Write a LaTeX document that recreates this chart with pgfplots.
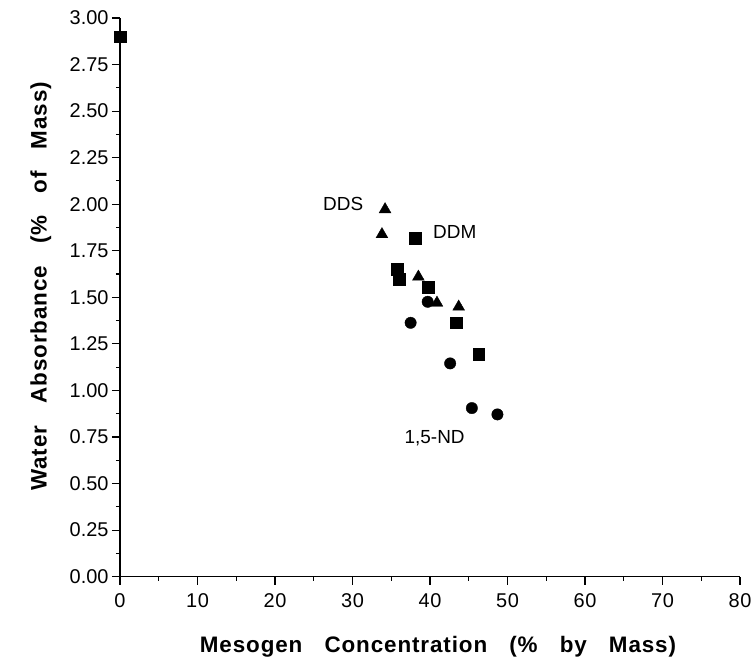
\documentclass[border=0pt]{standalone}
\usepackage{fontspec}
\setmainfont{Liberation Sans}
\newfontfamily\spacedfont[LetterSpace=4]{Liberation Sans}
\newfontfamily\labelfont[LetterSpace=4]{Liberation Sans}
\usepackage{pgfplots}
\pgfplotsset{compat=1.18}

\begin{document}
\begin{tikzpicture}
\begin{axis}[
  scale only axis,
  width=620bp, height=558.6bp,
  xmin=0, xmax=80, ymin=0, ymax=3,
  axis x line=bottom, axis y line=left,
  axis line style={-, line width=1.2bp},
  clip=false,
  xtick={0,10,...,80}, minor x tick num=1,
  ytick={0,0.25,...,3.01}, minor y tick num=1,
  tick align=outside,
  tick style={black, line width=1.1bp},
  major tick length=8bp, minor tick length=4bp,
  /pgf/number format/assume math mode=true,
  xticklabel style={font=\spacedfont\fontsize{20}{22}\selectfont, yshift=-5bp},
  yticklabel style={font=\fontsize{20}{22}\selectfont,
    /pgf/number format/fixed, /pgf/number format/fixed zerofill,
    /pgf/number format/precision=2},
  xlabel={\labelfont\bfseries Mesogen\hspace{15bp} Concentration\hspace{15bp} (\%\hspace{15bp} by\hspace{15bp} Mass)},
  ylabel={\labelfont\bfseries Water\hspace{15bp} Absorbance\hspace{15bp} (\%\hspace{15bp} of\hspace{15bp} Mass)},
  xlabel style={font=\fontsize{22.5}{26}\selectfont, at={([xshift=8bp,yshift=-75.5bp]axis description cs:0.5,0)}, anchor=base},
  ylabel style={font=\fontsize{22.5}{26}\selectfont, at={([xshift=-73.3bp,yshift=11bp]axis description cs:0,0.5)}, anchor=base},
]
% DDS
\addplot[only marks, mark=triangle*, mark size=6.8bp, mark options={fill=black, draw=black, line width=0.4bp}]
  coordinates {(33.8,1.838) (34.2,1.972) (38.5,1.610) (40.9,1.470) (43.7,1.449)};
% DDM
\addplot[only marks, mark=square*, mark size=5.8bp, mark options={fill=black, draw=black, line width=0.4bp}]
  coordinates {(0,2.90) (35.8,1.650) (36.0,1.596) (38.1,1.816) (39.8,1.553) (43.4,1.363) (46.3,1.195)};
% 1,5-ND
\addplot[only marks, mark=*, mark size=5.7bp, mark options={fill=black, draw=black, line width=0.4bp}]
  coordinates {(37.5,1.363) (39.7,1.476) (42.6,1.145) (45.4,0.905) (48.7,0.871)};
\node[font=\fontsize{19}{22}\selectfont] at (axis cs:28.8,2.0) {DDS};
\node[font=\fontsize{19}{22}\selectfont] at (axis cs:43.2,1.853) {DDM};
\node[font=\fontsize{19}{22}\selectfont] at (axis cs:40.6,0.743) {1,5-ND};
\path[use as bounding box] ([xshift=-120bp,yshift=-80.5bp]current axis.origin) ++(0,0)
  rectangle ([xshift=15bp,yshift=18bp]axis description cs:1,1);
\end{axis}
\end{tikzpicture}
\end{document}
